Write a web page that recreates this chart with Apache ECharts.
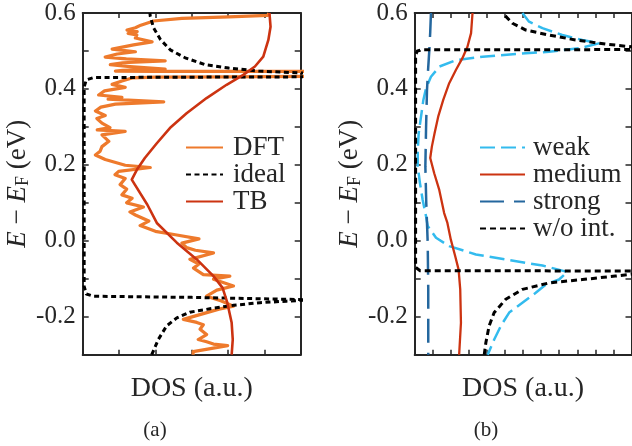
<!DOCTYPE html>
<html><head><meta charset="utf-8">
<script src="https://cdn.jsdelivr.net/npm/echarts@6/dist/echarts.min.js"></script>
<style>html,body{margin:0;padding:0;background:#fff}#c{width:632px;height:446px}</style>
</head><body><div id="c"></div>
<script>
// ---------- data: [DOS (a.u.), E - E_F (eV)] ----------
const dftData = [
 [5.12,0.600],[5.10,0.594],[4.02,0.590],[2.73,0.586],[1.95,0.579],[1.60,0.568],[1.45,0.561],[1.22,0.555],
 [1.50,0.551],[1.25,0.546],[1.49,0.542],[1.45,0.534],[1.91,0.524],[1.40,0.516],[0.81,0.505],[1.45,0.498],
 [0.95,0.492],[0.62,0.484],[1.20,0.479],[2.27,0.474],[1.10,0.469],[0.76,0.464],[1.30,0.459],[2.27,0.452],
 [1.10,0.449],[0.90,0.447],[2.00,0.446],[4.00,0.446],[6.50,0.446],[6.50,0.433],[4.00,0.432],[2.00,0.431],
 [1.36,0.429],[1.08,0.421],[0.81,0.412],[1.17,0.404],[0.60,0.395],[0.44,0.384],[1.08,0.378],[0.70,0.373],
 [2.23,0.366],[0.90,0.360],[0.50,0.352],[0.35,0.342],[0.62,0.330],[0.39,0.322],[0.53,0.310],[0.75,0.298],
 [0.40,0.292],[1.17,0.288],[0.53,0.279],[0.72,0.262],[0.53,0.248],[0.48,0.236],[0.35,0.226],[0.62,0.214],
 [1.17,0.199],[1.86,0.193],[0.99,0.183],[0.89,0.174],[1.17,0.164],[1.03,0.148],[1.21,0.136],[1.08,0.121],
 [1.36,0.112],[1.21,0.100],[1.67,0.089],[1.30,0.076],[1.45,0.068],[1.82,0.052],[1.58,0.040],[2.00,0.025],
 [2.55,0.016],[3.20,0.005],[2.73,-0.006],[2.86,-0.018],[3.10,-0.025],[3.60,-0.032],[2.95,-0.049],[3.20,-0.061],
 [3.05,-0.072],[3.32,-0.089],[4.05,-0.093],[3.60,-0.101],[4.15,-0.119],[3.69,-0.130],[3.41,-0.146],[3.80,-0.158],
 [4.15,-0.172],[3.75,-0.180],[2.77,-0.207],[3.14,-0.215],[3.32,-0.221],[3.23,-0.233],[3.41,-0.247],[3.18,-0.260],
 [3.41,-0.266],[3.60,-0.272],[3.99,-0.276],[3.04,-0.292],[3.04,-0.300]
];
const idealData = [
 [1.90,-0.300],[2.08,-0.260],[2.31,-0.224],[2.59,-0.203],[2.95,-0.188],[3.50,-0.179],[4.15,-0.170],
 [4.88,-0.163],[5.61,-0.159],[6.00,-0.157],[6.60,-0.156],[6.60,-0.152],[3.00,-0.149],[0.30,-0.146],
 [0.10,-0.140],[0.04,-0.120],[0.04,0.405],[0.10,0.424],[0.30,0.430],[3.00,0.431],[6.60,0.432],
 [6.60,0.441],[6.04,0.442],[4.84,0.447],[4.02,0.455],[3.37,0.464],[2.82,0.482],[2.41,0.503],
 [2.14,0.530],[1.95,0.561],[1.86,0.591],[1.85,0.600]
];
const tbData = [
 [5.14,0.600],[5.17,0.564],[5.11,0.529],[4.97,0.485],[4.74,0.459],[4.42,0.437],[3.96,0.411],[3.41,0.376],
 [2.86,0.336],[2.40,0.297],[2.04,0.257],[1.71,0.218],[1.49,0.187],[1.35,0.161],[1.78,0.095],[2.04,0.047],
 [2.59,-0.005],[3.14,-0.049],[3.60,-0.093],[3.85,-0.124],[3.98,-0.163],[4.10,-0.216],[4.13,-0.260],[4.10,-0.300]
];
const weakData = [
 [5.96,0.600],[6.33,0.577],[7.07,0.560],[8.17,0.542],[9.28,0.529],[10.19,0.520],[9.09,0.507],[7.43,0.498],
 [5.60,0.492],[3.76,0.485],[2.29,0.476],[1.37,0.459],[0.90,0.432],[0.63,0.402],[0.48,0.371],[0.35,0.327],
 [0.22,0.283],[0.17,0.239],[0.17,0.196],[0.29,0.152],[0.44,0.108],[0.63,0.064],[0.72,0.039],[1.18,0.008],
 [1.91,-0.014],[3.39,-0.036],[5.23,-0.051],[7.07,-0.065],[8.45,-0.082],[7.99,-0.102],[7.26,-0.115],
 [6.70,-0.137],[5.96,-0.163],[5.23,-0.189],[4.77,-0.224],[4.40,-0.260],[4.04,-0.300]
];
const mediumData = [
 [3.20,0.600],[3.12,0.547],[2.92,0.511],[2.64,0.481],[2.28,0.450],[1.91,0.415],[1.58,0.371],[1.30,0.327],
 [1.10,0.283],[0.95,0.248],[0.86,0.218],[1.08,0.178],[1.36,0.134],[1.63,0.073],[1.81,0.047],[2.00,0.003],
 [2.24,-0.040],[2.43,-0.076],[2.52,-0.128],[2.56,-0.216],[2.46,-0.300]
];
const strongData = [
 [0.90,0.600],[0.86,0.550],[0.81,0.503],[0.74,0.450],[0.68,0.397],[0.63,0.300],[0.59,0.196],
 [0.64,0.100],[0.72,-0.005],[0.75,-0.128],[0.75,-0.300]
];
const woIntData = [
 [3.85,-0.300],[3.94,-0.268],[4.12,-0.224],[4.40,-0.189],[5.04,-0.154],[5.96,-0.128],[7.43,-0.111],
 [9.28,-0.102],[11.10,-0.093],[12.00,-0.088],[13.00,-0.086],[13.00,-0.080],[6.00,-0.079],[0.30,-0.079],
 [0.05,-0.070],[0.05,0.490],[0.15,0.500],[0.40,0.503],[6.00,0.503],[13.00,0.504],[13.00,0.509],
 [12.00,0.511],[10.57,0.518],[8.90,0.529],[7.43,0.542],[6.15,0.555],[5.41,0.573],[4.86,0.600]
];
const yLabelValues = [-0.2, 0.0, 0.2, 0.4, 0.6];
const legendA = ['DFT', 'ideal', 'TB'];
const legendB = ['weak', 'medium', 'strong', 'w/o int.'];

// ---------- chart ----------
const SERIF = 'serif';
const INK = '#262626';
const chart = echarts.init(document.getElementById('c'), null, {renderer: 'canvas'});

function yAxis(gridIndex, position, withLabels) {
  return {
    type: 'value', gridIndex, position, min: -0.3, max: 0.6, interval: 0.1,
    axisLine: {show: true, onZero: false, lineStyle: {color: INK, width: 2}},
    axisTick: {show: true, inside: true, length: 6, lineStyle: {color: INK, width: 1.5}},
    splitLine: {show: false},
    axisLabel: {
      show: withLabels, margin: 7, fontSize: 25, fontFamily: SERIF, color: INK,
      showMinLabel: true, showMaxLabel: true,
      formatter: v => yLabelValues.some(t => Math.abs(t - v) < 1e-6) ? (Math.round(v * 10) / 10).toFixed(1) : ''
    },
    name: withLabels ? '{i|E} − {i|E}{s|F} (eV)' : '',
    nameLocation: 'middle', nameRotate: 90, nameGap: 40,
    nameTextStyle: {
      fontSize: 27, fontFamily: SERIF, color: INK,
      rich: {
        i: {fontSize: 27, fontFamily: SERIF, fontStyle: 'italic', color: INK},
        s: {fontSize: 18, fontFamily: SERIF, color: INK, padding: [10, 0, 0, 0]}
      }
    }
  };
}
function xAxis(gridIndex, position, max, withName) {
  return {
    type: 'value', gridIndex, position, min: 0, max, interval: 1,
    axisLine: {show: true, onZero: false, lineStyle: {color: INK, width: 2}},
    axisTick: {show: true, inside: true, length: 5, lineStyle: {color: INK, width: 1.5}},
    splitLine: {show: false},
    axisLabel: {show: false},
    name: withName ? 'DOS (a.u.)' : '',
    nameLocation: 'middle', nameGap: 20,
    nameTextStyle: {fontSize: 28, fontFamily: SERIF, color: INK}
  };
}
function line(name, data, xi, yi, color, width, type, z) {
  return {
    name, type: 'line', data, xAxisIndex: xi, yAxisIndex: yi,
    symbol: 'none', showSymbol: false, clip: true, z, animation: false,
    lineStyle: {color, width, type, cap: 'butt', join: 'round'},
    itemStyle: {color}
  };
}

const legendCommon = {
  orient: 'vertical', padding: 0, itemGap: 0, itemHeight: 14,
  selectedMode: false,
  itemStyle: {opacity: 0, borderWidth: 0}
};
function legendText(pad) {
  return {fontSize: 27, fontFamily: SERIF, color: INK, lineHeight: 26.5, padding: [0, 0, 0, pad]};
}

chart.setOption({
  animation: false,
  backgroundColor: '#fff',
  textStyle: {fontFamily: SERIF},
  grid: [
    {left: 82.7, width: 218, top: 13, height: 341.7},
    {left: 414.7, width: 216.8, top: 13, height: 341.7}
  ],
  xAxis: [
    xAxis(0, 'bottom', 6, true), xAxis(0, 'top', 6, false),
    xAxis(1, 'bottom', 12, true), xAxis(1, 'top', 12, false)
  ],
  yAxis: [
    yAxis(0, 'left', true), yAxis(0, 'right', false),
    yAxis(1, 'left', true), yAxis(1, 'right', false)
  ],
  legend: [
    Object.assign({}, legendCommon, {data: legendA, left: 185, top: 134, itemWidth: 37, textStyle: legendText(5)}),
    Object.assign({}, legendCommon, {data: legendB, left: 479, top: 134, itemWidth: 45, textStyle: legendText(3)})
  ],
  series: [
    line('DFT', dftData, 0, 0, '#EE7A2C', 3.2, 'solid', 2),
    line('ideal', idealData, 0, 0, '#000000', 3, [5, 3.5], 3),
    line('TB', tbData, 0, 0, '#CC3311', 2.6, 'solid', 4),
    line('weak', weakData, 2, 2, '#33BBEE', 2.5, [15, 6], 2),
    line('medium', mediumData, 2, 2, '#CC3311', 2.3, 'solid', 3),
    line('strong', strongData, 2, 2, '#24679E', 2.5, [24, 10], 4),
    line('w/o int.', woIntData, 2, 2, '#000000', 3, [6, 4], 5)
  ],
  graphic: [
    {type: 'text', x: 155, y: 430, style: {text: '(a)', fontSize: 21, fontFamily: SERIF, fill: INK, align: 'center', verticalAlign: 'middle'}},
    {type: 'text', x: 486, y: 430, style: {text: '(b)', fontSize: 21, fontFamily: SERIF, fill: INK, align: 'center', verticalAlign: 'middle'}}
  ]
});
</script>
</body></html>
